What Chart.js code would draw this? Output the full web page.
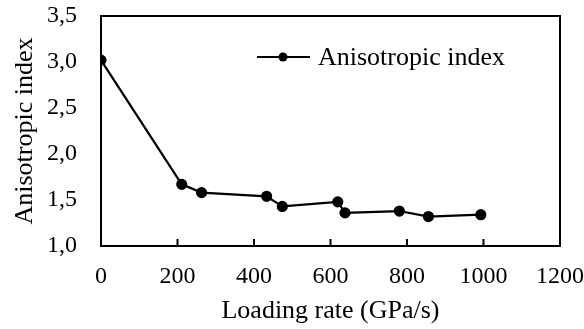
<!DOCTYPE html>
<html>
<head>
<meta charset="utf-8">
<script src="https://cdn.jsdelivr.net/npm/chart.js@4/dist/chart.umd.min.js"></script>
<style>
  html, body { margin: 0; padding: 0; background: #fff; }
  #wrap { width: 584px; height: 329px; }
</style>
</head>
<body>
<div id="wrap"><canvas id="anisoChart" width="584" height="329"></canvas></div>
<script>
const loadingRate = [0, 211, 263, 433, 474, 619, 638, 780, 856, 993];
const anisoIndex = [3.02, 1.67, 1.58, 1.54, 1.43, 1.48, 1.36, 1.38, 1.32, 1.34];
const seriesName = 'Anisotropic index';
const xTickValues = [0, 200, 400, 600, 800, 1000, 1200];

const font = 'Liberation Serif';

// box around the plot + x ticks pointing inward + legend inside the plot
const framePlugin = {
    id: 'frame',
    afterDraw(chart) {
        const { ctx, chartArea: a, scales } = chart;
        ctx.save();
        ctx.strokeStyle = '#000';
        ctx.lineWidth = 2;
        ctx.strokeRect(a.left, a.top, a.right - a.left, a.bottom - a.top);

        ctx.beginPath();
        xTickValues.slice(1, -1).forEach(v => {
            const x = scales.x.getPixelForValue(v);
            ctx.moveTo(x, a.bottom);
            ctx.lineTo(x, a.bottom - 7);
        });
        ctx.stroke();

        // legend
        const ly = 57, lx = 257;
        ctx.lineWidth = 2.2;
        ctx.beginPath();
        ctx.moveTo(lx, ly);
        ctx.lineTo(lx + 53, ly);
        ctx.stroke();
        ctx.beginPath();
        ctx.arc(lx + 26, ly, 4.5, 0, Math.PI * 2);
        ctx.fillStyle = '#000';
        ctx.fill();
        ctx.font = '26px "' + font + '"';
        ctx.textBaseline = 'middle';
        ctx.fillText(seriesName, lx + 61, ly + 1);
        ctx.restore();
    }
};

new Chart(document.getElementById('anisoChart'), {
    type: 'line',
    data: {
        datasets: [{
            label: seriesName,
            data: loadingRate.map((x, i) => ({ x: x, y: anisoIndex[i] })),
            borderColor: '#000',
            backgroundColor: '#000',
            borderWidth: 2.2,
            pointRadius: 4.5,
            pointHoverRadius: 4.5,
            tension: 0
        }]
    },
    options: {
        responsive: false,
        animation: false,
        layout: { padding: { top: 16, right: 24, left: 4, bottom: 0 } },
        plugins: {
            legend: { display: false },
            tooltip: { enabled: false }
        },
        scales: {
            x: {
                type: 'linear',
                min: 0,
                max: 1200,
                afterBuildTicks(scale) {
                    scale.ticks = xTickValues.map(v => ({ value: v }));
                },
                afterFit(scale) {
                    scale.height = 83;
                    scale.paddingLeft = 0;
                    scale.paddingRight = 0;
                },
                grid: { display: false, drawTicks: false },
                border: { display: false },
                ticks: {
                    color: '#000',
                    font: { family: font, size: 24 },
                    padding: 16,
                    maxRotation: 0,
                    callback: v => String(v)
                },
                title: {
                    display: true,
                    text: 'Loading rate (GPa/s)',
                    color: '#000',
                    font: { family: font, size: 26 },
                    padding: { top: 4, bottom: 2 }
                }
            },
            y: {
                min: 1.0,
                max: 3.5,
                afterFit(scale) {
                    scale.width = 97;
                    scale.paddingTop = 0;
                    scale.paddingBottom = 0;
                },
                grid: { display: false, drawTicks: false },
                border: { display: false },
                ticks: {
                    stepSize: 0.5,
                    color: '#000',
                    font: { family: font, size: 24 },
                    padding: 24,
                    callback: v => v.toFixed(1).replace('.', ',')
                },
                title: {
                    display: true,
                    text: 'Anisotropic index',
                    color: '#000',
                    font: { family: font, size: 26 },
                    padding: { top: 6, bottom: 4 }
                }
            }
        }
    },
    plugins: [framePlugin]
});
</script>
</body>
</html>
